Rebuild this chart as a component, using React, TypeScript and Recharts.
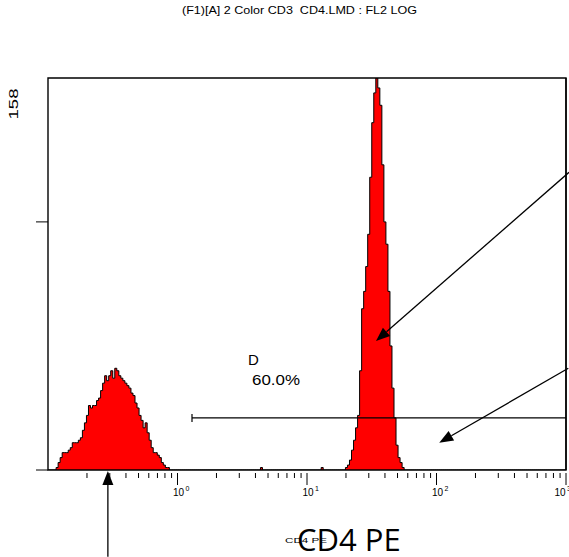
import React from 'react';
import { Area, ComposedChart, ReferenceArea, ReferenceLine, XAxis, YAxis } from 'recharts';

// FL2 LOG histogram: 256 channels spread over 4 decades (0.1 .. 1000)
const CHANNELS = 256;
const DECADES = 4;

// CD4 negative population, counts starting at channel 4
const lowStart = 4;
const lowCounts = [
  1, 3, 5, 7, 7, 7, 8, 9, 11, 11, 11, 12, 13, 16, 19, 22, 26, 25, 26, 26, 28, 29, 32, 35, 38, 36, 38, 40,
  37, 41, 40, 38, 37, 36, 35, 34, 33, 31, 30, 27, 25, 22, 20, 17, 19, 15, 12, 9, 7, 7, 6, 5, 3, 2, 1, 1,
];

// CD4 positive population (gate D), counts starting at channel 147
const highStart = 147;
const highCounts = [
  1, 2, 4, 8, 12, 17, 22, 40, 65, 72, 82, 95, 118, 140, 152, 158, 154, 147, 123, 100, 91, 72, 50, 33, 21,
  10, 5, 3, 1,
];

// single stray events between the peaks
const strayChannels = [105, 135];

const yMax = 158;
const yTicks = [0, 100];
const majorTicks = [1, 10, 100, 1000];
const minorSteps = [2, 3, 4, 5, 6, 7, 8, 9];
const decadeStarts = [0.1, 1, 10, 100];

// annotations (data coordinates)
const gate = { x1: 1.294, x2: 1000, y: 21 };
const arrows = [
  { from: { x: 1055, y: 120 }, to: { x: 34.1, y: 52 } },
  { from: { x: 1042, y: 41 }, to: { x: 105, y: 11 } },
  { from: { x: 0.29, y: -35 }, to: { x: 0.29, y: -0.4 } },
];

const counts: number[] = new Array(CHANNELS + 1).fill(0);
lowCounts.forEach((c, i) => (counts[lowStart + i] = c));
highCounts.forEach((c, i) => (counts[highStart + i] = c));
strayChannels.forEach((ch) => (counts[ch] = 1));

const data = counts.map((count, ch) => ({
  fl: Math.pow(10, (ch * DECADES) / CHANNELS - 1),
  count,
}));

const minorTicks = decadeStarts.flatMap((d) => minorSteps.map((m) => +(d * m).toPrecision(3)));
const xTicks = [...minorTicks, ...majorTicks].sort((a, b) => a - b);

const FONT = "'Liberation Sans', Arial, sans-serif";

const XTick = ({ x, y, payload }: any) => {
  const v = payload.value;
  const major = majorTicks.includes(v);
  const exp = Math.round(Math.log10(v));
  // last label is pulled inside the frame, like the cytometer printout
  const lx = v === 1000 ? x - 6 : x + 1;
  return (
    <g>
      <line x1={x} x2={x} y1={y + 3} y2={y + (major ? 15 : 8)} stroke='#000' />
      {major && (
        <text fontFamily={FONT} fill='#000'>
          <tspan x={lx} y={y + 26} fontSize={10} textAnchor='middle'>
            10
          </tspan>
          <tspan x={lx + 7} y={y + 21} fontSize={7}>
            {exp}
          </tspan>
        </text>
      )}
    </g>
  );
};

const NoTick = () => <g />;

const Arrow = (props: any) => {
  const { x1, y1, x2, y2 } = props;
  const dx = x2 - x1;
  const dy = y2 - y1;
  const len = Math.hypot(dx, dy);
  const ux = dx / len;
  const uy = dy / len;
  const hl = 14;
  const hw = 5.5;
  const bx = x2 - ux * hl;
  const by = y2 - uy * hl;
  const pts = `${x2},${y2} ${bx - uy * hw},${by + ux * hw} ${bx + uy * hw},${by - ux * hw}`;
  return (
    <g>
      <line x1={x1} y1={y1} x2={bx} y2={by} stroke='#000' strokeWidth={1.3} />
      <polygon points={pts} fill='#000' />
    </g>
  );
};

const GateShape = (props: any) => {
  const { x1, y1, x2, y2 } = props;
  return (
    <g>
      <line x1={x1} y1={y1} x2={x2} y2={y2} stroke='#000' strokeWidth={1.2} />
      <line x1={x1} y1={y1 - 4} x2={x1} y2={y1 + 4} stroke='#000' strokeWidth={1.2} />
    </g>
  );
};

export default function App() {
  return (
    <div style={{ position: 'absolute', left: 0, top: 0, width: 569, height: 557, background: '#fff' }}>
      <ComposedChart
        width={569}
        height={557}
        data={data}
        margin={{ top: 78, right: 3, bottom: 47, left: 28 }}
      >
        <XAxis
          dataKey='fl'
          type='number'
          scale='log'
          domain={[0.1, 1000]}
          ticks={xTicks}
          interval={0}
          allowDataOverflow
          axisLine={false}
          tickLine={false}
          tickSize={0}
          tickMargin={0}
          height={40}
          tick={<XTick />}
        />
        <YAxis
          type='number'
          domain={[0, yMax]}
          ticks={yTicks}
          interval={0}
          allowDataOverflow
          width={20}
          axisLine={false}
          tickLine={{ stroke: '#000' }}
          tickSize={12}
          tick={<NoTick />}
        />
        <Area
          type='stepAfter'
          dataKey='count'
          stroke='#000'
          strokeWidth={1}
          fill='#ff0000'
          fillOpacity={1}
          dot={false}
          activeDot={false}
          isAnimationActive={false}
        />
        {/* plot frame */}
        <ReferenceArea
          x1={0.1}
          x2={1000}
          y1={0}
          y2={yMax}
          fill='none'
          stroke='#000'
          strokeWidth={1.4}
          ifOverflow='visible'
        />
        <ReferenceLine x={1000} stroke='#000' strokeWidth={1.4} ifOverflow='visible' />
        <ReferenceLine
          segment={[
            { x: gate.x1, y: gate.y },
            { x: gate.x2, y: gate.y },
          ]}
          ifOverflow='visible'
          shape={<GateShape />}
        />
        {arrows.map((a, i) => (
          <ReferenceLine
            key={i}
            segment={[a.from, a.to]}
            ifOverflow='visible'
            shape={<Arrow />}
          />
        ))}

        {/* header and labels */}
        <text x={182} y={14} fontSize={10} fontFamily={FONT} textLength={235} lengthAdjust='spacingAndGlyphs'>
          {'(F1)[A] 2 Color CD3\u00a0\u00a0CD4.LMD : FL2 LOG'}
        </text>
        <text
          x={18}
          y={104}
          fontSize={13}
          fontFamily={FONT}
          textAnchor='middle'
          transform='rotate(-90 18 104)'
          textLength={31}
          lengthAdjust='spacingAndGlyphs'
        >
          158
        </text>
        <text x={248} y={365} fontSize={15} fontFamily={FONT}>
          D
        </text>
        <text x={252} y={385} fontSize={15} fontFamily={FONT} textLength={48} lengthAdjust='spacingAndGlyphs'>
          60.0%
        </text>
        <text x={285} y={543} fontSize={8} fontFamily={FONT} textLength={42} lengthAdjust='spacingAndGlyphs'>
          CD4 PE
        </text>
        <text x={297} y={551} fontSize={31} fontFamily="'Open Sans', sans-serif" fill='#000'>
          CD4 PE
        </text>
      </ComposedChart>
    </div>
  );
}
